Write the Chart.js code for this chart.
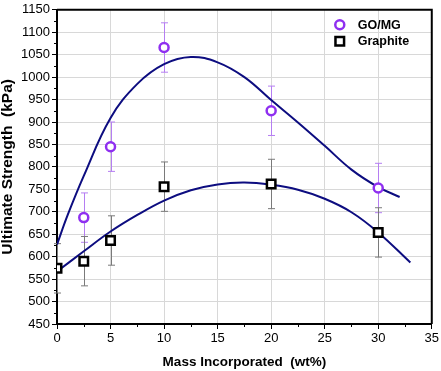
<!DOCTYPE html>
<html>
<head>
<meta charset="utf-8">
<script src="https://cdn.jsdelivr.net/npm/chart.js@4.4.1/dist/chart.umd.min.js"></script>
<style>
  html, body { margin: 0; padding: 0; background: #fff; }
  #wrap { width: 441px; height: 371px; }
</style>
</head>
<body>
<div id="wrap"><canvas id="c" width="441" height="371"></canvas></div>
<script>
// ---- data ----
const goMgX = [2.5, 5, 10, 20, 30];
const goMgY = [687, 845, 1066, 925, 753];
const goMgErr = [55, 55, 55, 55, 55];

const graphiteX = [0, 2.5, 5, 10, 20, 30];
const graphiteY = [574, 590, 636, 756, 762, 654];
const graphiteErr = [55, 55, 55, 55, 55, 55];

// fitted curves
const goMgFitX = [0, 1, 2.5, 5, 7.5, 10, 12.5, 15, 17.5, 20, 22.5, 25, 27.5, 30, 32];
const goMgFitY = [627, 693, 780, 909, 985, 1029, 1045, 1033, 1000, 949, 899, 847, 794, 755, 733];
const graphiteFitX = [0, 2.5, 5, 7.5, 10, 12.5, 15, 17.5, 20, 22.5, 25, 27.5, 30, 33];
const graphiteFitY = [567, 612, 656, 693, 725, 748, 761, 765, 760, 749, 729, 699, 654, 587];

const seriesLabels = ['GO/MG', 'Graphite'];
const xTitle = 'Mass Incorporated  (wt%)';
const yTitle = 'Ultimate Strength  (kPa)';
const xMinorTicks = [2.5, 7.5, 12.5, 17.5, 22.5, 27.5, 32.5];
const yMinorTicks = [475, 525, 575, 625, 675, 725, 775, 825, 875, 925, 975, 1025, 1075, 1125];

const FONT = "'Liberation Sans', Arial, sans-serif";
const PURPLE = '#8f2ff0';
const PURPLE_ERR = '#b57ef2';
const GRAY_ERR = '#7a7a7a';
const NAVY = '#0d0d80';

function pts(xs, ys) { return xs.map((x, i) => ({ x: x, y: ys[i] })); }

const errorBars = {
  id: 'errorBars',
  beforeDatasetsDraw(chart) {
    const { ctx, scales: { x, y } } = chart;
    const groups = [
      { xs: goMgX, ys: goMgY, es: goMgErr, color: PURPLE_ERR },
      { xs: graphiteX, ys: graphiteY, es: graphiteErr, color: GRAY_ERR }
    ];
    ctx.save();
    ctx.lineWidth = 1;
    groups.forEach(g => {
      ctx.strokeStyle = g.color;
      g.xs.forEach((xv, i) => {
        const px = Math.round(x.getPixelForValue(xv)) + 0.5;
        const top = y.getPixelForValue(g.ys[i] + g.es[i]);
        const bot = y.getPixelForValue(g.ys[i] - g.es[i]);
        ctx.beginPath();
        ctx.moveTo(px, top); ctx.lineTo(px, bot);
        ctx.moveTo(px - 3.5, top); ctx.lineTo(px + 3.5, top);
        ctx.moveTo(px - 3.5, bot); ctx.lineTo(px + 3.5, bot);
        ctx.stroke();
      });
    });
    ctx.restore();
  }
};

const frameAndMinor = {
  id: 'frameAndMinor',
  afterDraw(chart) {
    const { ctx, chartArea: a, scales: { x, y } } = chart;
    ctx.save();
    ctx.strokeStyle = '#000';
    ctx.lineWidth = 2;
    ctx.beginPath();
    ctx.moveTo(a.left, a.top); ctx.lineTo(a.right, a.top); ctx.lineTo(a.right, a.bottom);
    ctx.stroke();
    ctx.lineWidth = 1;
    ctx.beginPath();
    xMinorTicks.forEach(v => {
      const px = Math.round(x.getPixelForValue(v)) + 0.5;
      ctx.moveTo(px, a.bottom); ctx.lineTo(px, a.bottom + 3);
    });
    yMinorTicks.forEach(v => {
      const py = Math.round(y.getPixelForValue(v)) + 0.5;
      ctx.moveTo(a.left - 3, py); ctx.lineTo(a.left, py);
    });
    ctx.stroke();

    // legend
    const lx = a.right - 92;
    const ly1 = a.top + 15;
    const ly2 = a.top + 31.5;
    ctx.lineWidth = 2.5;
    ctx.strokeStyle = PURPLE;
    ctx.fillStyle = '#fff';
    ctx.beginPath(); ctx.arc(lx, ly1, 4.5, 0, Math.PI * 2); ctx.fill(); ctx.stroke();
    ctx.strokeStyle = '#000';
    ctx.beginPath(); ctx.rect(lx - 4.3, ly2 - 4.3, 8.6, 8.6); ctx.fill(); ctx.stroke();
    ctx.fillStyle = '#000';
    ctx.font = 'bold 12.5px ' + FONT;
    ctx.textBaseline = 'middle';
    ctx.textAlign = 'left';
    ctx.fillText(seriesLabels[0], lx + 18, ly1 + 0.5);
    ctx.fillText(seriesLabels[1], lx + 18, ly2 + 0.5);
    ctx.restore();
  }
};

new Chart(document.getElementById('c'), {
  type: 'scatter',
  data: {
    datasets: [
      {
        label: seriesLabels[0],
        data: pts(goMgX, goMgY),
        pointStyle: 'circle',
        pointRadius: 4.5,
        pointBorderWidth: 2.5,
        pointBorderColor: PURPLE,
        pointBackgroundColor: '#fff',
        showLine: false
      },
      {
        label: seriesLabels[1],
        data: pts(graphiteX, graphiteY),
        pointStyle: 'rect',
        pointRadius: 6,
        pointBorderWidth: 2.5,
        pointBorderColor: '#000',
        pointBackgroundColor: '#fff',
        showLine: false,
        clip: { left: 0, top: 10, right: 10, bottom: 10 }
      },
      {
        label: 'GO/MG fit',
        data: pts(goMgFitX, goMgFitY),
        showLine: true,
        pointRadius: 0,
        borderColor: NAVY,
        borderWidth: 2,
        tension: 0.4,
        fill: false
      },
      {
        label: 'Graphite fit',
        data: pts(graphiteFitX, graphiteFitY),
        showLine: true,
        pointRadius: 0,
        borderColor: NAVY,
        borderWidth: 2,
        tension: 0.4,
        fill: false
      }
    ]
  },
  options: {
    responsive: false,
    animation: false,
    devicePixelRatio: 1,
    layout: { padding: { top: 5, right: 6.5, left: 0, bottom: 0 } },
    plugins: {
      legend: { display: false },
      tooltip: { enabled: false }
    },
    scales: {
      x: {
        type: 'linear',
        min: 0, max: 35,
        ticks: { stepSize: 5, color: '#000', font: { family: FONT, size: 13 }, padding: 2, maxRotation: 0, callback: v => String(v) },
        grid: { color: '#d8d8d8', lineWidth: 1, tickColor: '#000', tickLength: 5, tickWidth: 1 },
        border: { color: '#000', width: 2 },
        title: { display: true, text: xTitle, color: '#000', font: { family: FONT, size: 13.5, weight: 'bold', lineHeight: 1 }, padding: { top: 0, bottom: 1.5 } },
        afterFit: s => { s.height = 47; }
      },
      y: {
        type: 'linear',
        min: 450, max: 1150,
        ticks: { stepSize: 50, color: '#000', font: { family: FONT, size: 13 }, padding: 2, callback: v => String(v) },
        grid: { color: '#d8d8d8', lineWidth: 1, tickColor: '#000', tickLength: 5, tickWidth: 1 },
        border: { color: '#000', width: 2 },
        title: { display: true, text: yTitle, color: '#000', font: { family: FONT, size: 15.5, weight: 'bold', lineHeight: 1 }, padding: { top: 0, bottom: 0 } },
        afterFit: s => { s.width = 57; }
      }
    }
  },
  plugins: [errorBars, frameAndMinor]
});
</script>
</body>
</html>
